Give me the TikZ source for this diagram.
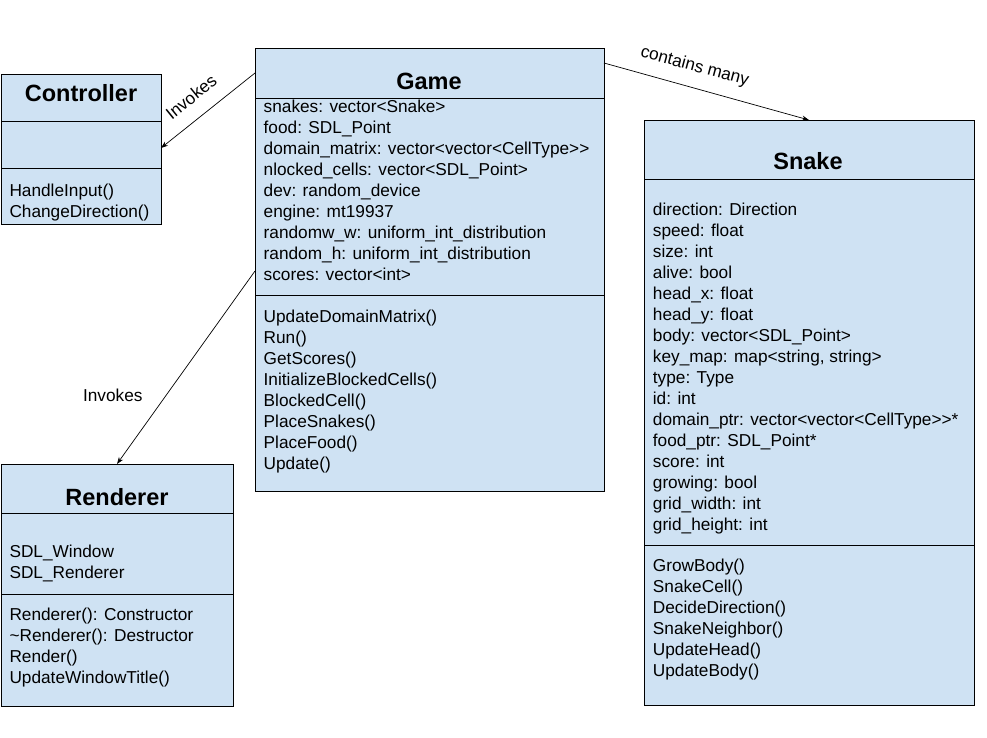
\documentclass[tikz,border=0pt]{standalone}
\usepackage{fontspec}
\setmainfont{Liberation Sans}
\usetikzlibrary{arrows.meta,positioning}
\definecolor{Box}{RGB}{207,226,243}
\tikzset{
  cpart/.style={draw=black,fill=Box,line width=0.9pt,anchor=north west,inner sep=0pt,outer sep=0pt},
  ctitle/.style={font=\fontsize{23.5}{28}\selectfont\bfseries,inner sep=0pt},
  cbody/.style={font=\fontsize{17.25}{21}\selectfont,align=left,anchor=north west,inner sep=0pt},
  carr/.style={-{Stealth[length=7pt,width=5pt]},line width=0.7pt},
  clab/.style={font=\fontsize{17.25}{21}\selectfont,inner sep=0pt}
}

\begin{document}
\begin{tikzpicture}[x=1pt,y=-1pt]
\useasboundingbox (0,0) rectangle (987,737);
% Controller
\node[cpart, minimum width=160pt, minimum height=47pt] (ctrlhead) at (1,74) {};
\node[cpart, minimum width=160pt, minimum height=47pt, below=0pt of ctrlhead] (ctrlattr) {};
\node[cpart, minimum width=160pt, minimum height=56pt, below=0pt of ctrlattr] (ctrlops) {};
\node[ctitle] (ctrlname) at (81,93.5) {Controller};
\node[cbody] (ctrlopstext) at (9.3,183.4) {HandleInput()\\ChangeDirection()};
% Game
\node[cpart, minimum width=349pt, minimum height=50pt] (gamehead) at (255,48) {};
\node[cpart, minimum width=349pt, minimum height=197pt, below=0pt of gamehead] (gameattr) {};
\node[cpart, minimum width=349pt, minimum height=196pt, below=0pt of gameattr] (gameops) {};
\node[ctitle] (gamename) at (429,81.5) {Game};
\node[cbody] (gameattrtext) at (263.5,100.1) {snakes: vector<Snake>\\food: SDL\_Point\\domain\_matrix: vector<vector<CellType>{}>\\nlocked\_cells: vector<SDL\_Point>\\dev: random\_device\\engine: mt19937\\randomw\_w: uniform\_int\_distribution\\random\_h: uniform\_int\_distribution\\scores: vector<int>};
\node[cbody] (gameopstext) at (263.5,310.1) {UpdateDomainMatrix()\\Run()\\GetScores()\\InitializeBlockedCells()\\BlockedCell()\\PlaceSnakes()\\PlaceFood()\\Update()};
% Snake
\node[cpart, minimum width=330pt, minimum height=59pt] (snakehead) at (644,120) {};
\node[cpart, minimum width=330pt, minimum height=366pt, below=0pt of snakehead] (snakeattr) {};
\node[cpart, minimum width=330pt, minimum height=160pt, below=0pt of snakeattr] (snakeops) {};
\node[ctitle] (snakename) at (808,161.5) {Snake};
\node[cbody] (snakeattrtext) at (652.7,202.4) {direction: Direction\\speed: float\\size: int\\alive: bool\\head\_x: float\\head\_y: float\\body: vector<SDL\_Point>\\key\_map: map<string, string>\\type: Type\\id: int\\domain\_ptr: vector<vector<CellType>{}>*\\food\_ptr: SDL\_Point*\\score: int\\growing: bool\\grid\_width: int\\grid\_height: int};
\node[cbody] (snakeopstext) at (652.7,559) {GrowBody()\\SnakeCell()\\DecideDirection()\\SnakeNeighbor()\\UpdateHead()\\UpdateBody()};
% Renderer
\node[cpart, minimum width=232pt, minimum height=49pt] (renhead) at (1,464) {};
\node[cpart, minimum width=232pt, minimum height=81pt, below=0pt of renhead] (renattr) {};
\node[cpart, minimum width=232pt, minimum height=112pt, below=0pt of renattr] (renops) {};
\node[ctitle] (renname) at (117,497.5) {Renderer};
\node[cbody] (renattrtext) at (9.3,545) {SDL\_Window\\SDL\_Renderer};
\node[cbody] (renopstext) at (9.3,607.5) {Renderer(): Constructor\\\textasciitilde Renderer(): Destructor\\Render()\\UpdateWindowTitle()};
% links
\draw[carr] (gamehead.west) -- ([yshift=-3.5pt]ctrlattr.east);
\draw[carr] ([yshift=24pt]gameattr.south west) -- (renhead.north);
\draw[carr] ([yshift=10pt]gamehead.east) -- (snakehead.north);
\node[clab, rotate=39] (invctrl) at (191,97) {Invokes};
\node[clab] (invren) at (112.8,395) {Invokes};
\node[clab, rotate=-15] (contains) at (694.7,66.7) {contains many};
\end{tikzpicture}
\end{document}
